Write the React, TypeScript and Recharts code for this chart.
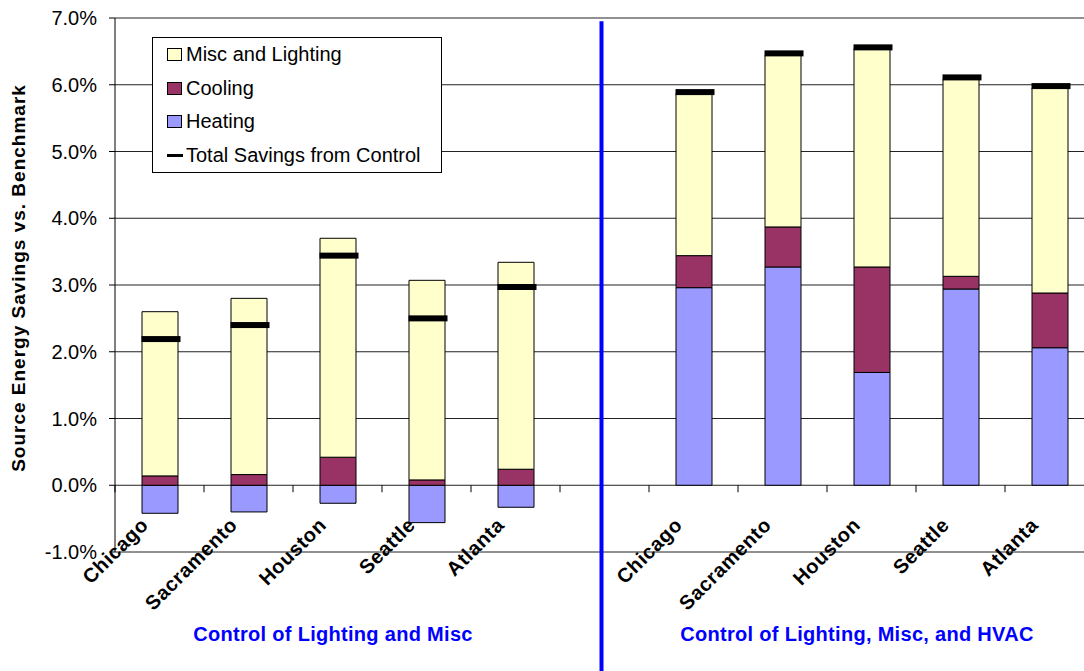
import {
  ComposedChart,
  Bar,
  Line,
  XAxis,
  YAxis,
  CartesianGrid,
  ReferenceLine,
  Legend,
} from 'recharts'

// categories: two groups of cities with an empty slot between them
const ids = [
  'L-Chicago', 'L-Sacramento', 'L-Houston', 'L-Seattle', 'L-Atlanta',
  'gap',
  'R-Chicago', 'R-Sacramento', 'R-Houston', 'R-Seattle', 'R-Atlanta',
]
const cities = [
  'Chicago', 'Sacramento', 'Houston', 'Seattle', 'Atlanta',
  '',
  'Chicago', 'Sacramento', 'Houston', 'Seattle', 'Atlanta',
]

// savings in % of benchmark source energy
const heating = [-0.42, -0.40, -0.27, -0.56, -0.33, null, 2.96, 3.27, 1.69, 2.94, 2.06]
const cooling = [0.14, 0.16, 0.42, 0.08, 0.24, null, 0.48, 0.60, 1.58, 0.19, 0.82]
const misc = [2.46, 2.64, 3.28, 2.99, 3.10, null, 2.43, 2.57, 3.27, 2.95, 3.07]
const totalSavings = [2.19, 2.40, 3.44, 2.50, 2.97, null, 5.89, 6.47, 6.56, 6.11, 5.98]

const yTicks = [-1, 0, 1, 2, 3, 4, 5, 6, 7]
const groupLabels = ['Control of Lighting and Misc', 'Control of Lighting, Misc, and HVAC']

const legendItems = [
  { label: 'Misc and Lighting', color: '#FFFFCC', kind: 'box' },
  { label: 'Cooling', color: '#993366', kind: 'box' },
  { label: 'Heating', color: '#9999FF', kind: 'box' },
  { label: 'Total Savings from Control', color: '#000000', kind: 'line' },
]

const data = ids.map((id, i) => ({
  id,
  city: cities[i],
  heating: heating[i],
  cooling: cooling[i],
  misc: misc[i],
  total: totalSavings[i],
}))

const FONT = '"Liberation Sans", Arial, sans-serif'
const CHART_W = 1100
const CHART_H = 671
const M_TOP = 18
const M_RIGHT = 6
const M_BOTTOM = 89
const Y_AXIS_W = 115
const X_AXIS_H = 30
const PLOT_TOP = M_TOP
const PLOT_BOTTOM = CHART_H - M_BOTTOM - X_AXIS_H
const BAND = (CHART_W - M_RIGHT - Y_AXIS_W) / ids.length
const ZERO_Y = PLOT_BOTTOM - ((0 - yTicks[0]) / (yTicks[yTicks.length - 1] - yTicks[0])) * (PLOT_BOTTOM - PLOT_TOP)

const CityTick = (props: any) => {
  const { x, payload } = props
  const i = ids.indexOf(payload.value)
  const label = cities[i]
  const lx = x - 10
  const ly = ZERO_Y + 41
  return (
    <g>
      <line x1={x - BAND / 2} x2={x - BAND / 2} y1={ZERO_Y} y2={ZERO_Y + 7} stroke="#000" />
      {i === ids.length - 1 && (
        <line x1={x + BAND / 2} x2={x + BAND / 2} y1={ZERO_Y} y2={ZERO_Y + 7} stroke="#000" />
      )}
      {label && (
        <text
          x={lx}
          y={ly}
          textAnchor="end"
          transform={`rotate(-45 ${lx} ${ly})`}
          fontFamily={FONT}
          fontWeight="bold"
          fontSize={20}
          letterSpacing={0.6}
          fill="#000"
        >
          {label}
        </text>
      )}
    </g>
  )
}

const TotalMark = (p: any) => {
  if (p.value == null || p.cy == null) return <g key={p.index} />
  return <rect key={p.index} x={p.cx - 18} y={p.cy - 3} width={39} height={6} fill="#000" />
}

const renderLegend = () => (
  <div
    style={{
      border: '1px solid #000',
      background: '#fff',
      width: 288,
      fontFamily: FONT,
      fontSize: 20,
      color: '#000',
    }}
  >
    {legendItems.map((it) => (
      <div key={it.label} style={{ height: 33.5, display: 'flex', alignItems: 'center', paddingLeft: 14 }}>
        {it.kind === 'box' ? (
          <span
            style={{
              display: 'inline-block',
              width: 13,
              height: 11,
              background: it.color,
              border: '1px solid #000',
              marginRight: 4,
            }}
          />
        ) : (
          <span
            style={{
              display: 'inline-block',
              width: 16,
              height: 3,
              background: it.color,
              marginRight: 3,
            }}
          />
        )}
        <span>{it.label}</span>
      </div>
    ))}
  </div>
)

export default function App() {
  return (
    <div style={{ position: 'absolute', left: 0, top: 0, width: 1084, height: 671, overflow: 'hidden', background: '#fff' }}>
      <ComposedChart
        width={CHART_W}
        height={CHART_H}
        data={data}
        stackOffset="sign"
        margin={{ top: M_TOP, right: M_RIGHT, bottom: M_BOTTOM, left: 0 }}
        barSize={36}
      >
        <CartesianGrid vertical={false} stroke="#222" />
        <XAxis
          dataKey="id"
          type="category"
          interval={0}
          height={X_AXIS_H}
          axisLine={false}
          tickLine={false}
          tick={CityTick}
        />
        <YAxis
          width={Y_AXIS_W}
          domain={[-1, 7]}
          ticks={yTicks}
          interval={0}
          tickFormatter={(v: number) => `${v.toFixed(1)}%`}
          tick={{ fontSize: 20, fill: '#000', fontFamily: FONT }}
          axisLine={{ stroke: '#000' }}
          tickLine={{ stroke: '#000' }}
          tickSize={6}
          tickMargin={12}
        />
        <Legend
          layout="horizontal"
          verticalAlign="middle"
          align="center"
          content={renderLegend}
          wrapperStyle={{ left: 152, top: 37, width: 290, height: 137 }}
        />
        <Bar dataKey="heating" stackId="s" fill="#9999FF" stroke="#000" strokeWidth={1} isAnimationActive={false} />
        <Bar dataKey="cooling" stackId="s" fill="#993366" stroke="#000" strokeWidth={1} isAnimationActive={false} />
        <Bar dataKey="misc" stackId="s" fill="#FFFFCC" stroke="#000" strokeWidth={1} isAnimationActive={false} />
        <Line
          dataKey="total"
          stroke="none"
          dot={TotalMark}
          activeDot={false}
          legendType="none"
          isAnimationActive={false}
        />
        <ReferenceLine
          segment={[
            { x: 'gap', y: 6.95 },
            { x: 'gap', y: -2.9 },
          ]}
          stroke="#0000FF"
          strokeWidth={4}
          ifOverflow="visible"
          transform="translate(-3 0)"
        />
      </ComposedChart>
      <div
        style={{
          position: 'absolute',
          left: 18.5 - 210,
          top: 278 - 12,
          width: 420,
          height: 24,
          lineHeight: '24px',
          transform: 'rotate(-90deg)',
          textAlign: 'center',
          fontFamily: FONT,
          fontWeight: 'bold',
          fontSize: 19,
          letterSpacing: 1,
          whiteSpace: 'nowrap',
        }}
      >
        Source Energy Savings vs. Benchmark
      </div>
      {groupLabels.map((g, i) => (
        <div
          key={g}
          style={{
            position: 'absolute',
            left: (i === 0 ? 333 : 857) - 200,
            top: 624,
            width: 400,
            lineHeight: '20px',
            textAlign: 'center',
            fontFamily: FONT,
            fontWeight: 'bold',
            fontSize: 20,
            letterSpacing: 0.3,
            color: '#0000FF',
            whiteSpace: 'nowrap',
          }}
        >
          {g}
        </div>
      ))}
    </div>
  )
}
